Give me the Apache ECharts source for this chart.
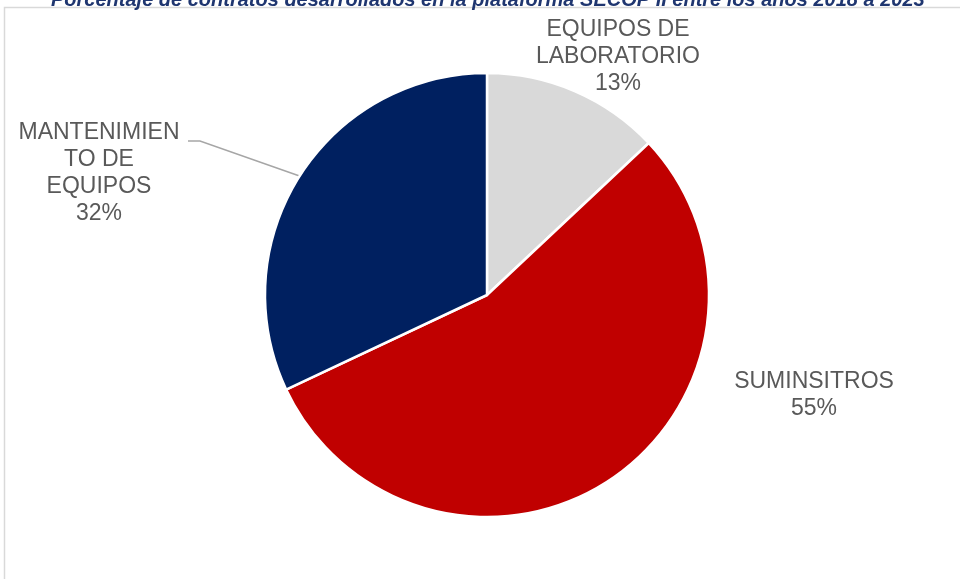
<!DOCTYPE html>
<html>
<head>
<meta charset="utf-8">
<script src="https://cdn.jsdelivr.net/npm/echarts@6/dist/echarts.min.js"></script>
<style>
	html, body { margin: 0; padding: 0; background: #fff; }
	#chart { width: 960px; height: 579px; }
</style>
</head>
<body>
<div id="chart"></div>
<script>
	// datos del gráfico
	var categorias = ['EQUIPOS DE LABORATORIO', 'SUMINSITROS', 'MANTENIMIENTO DE EQUIPOS'];
	var etiquetas = ['EQUIPOS DE\nLABORATORIO', 'SUMINSITROS', 'MANTENIMIEN\nTO DE\nEQUIPOS'];
	var porcentajes = [13, 55, 32];
	var colores = ['#d9d9d9', '#c00000', '#002060'];
	var titulo = 'Porcentaje de contratos desarrollados en la plataforma SECOP II entre los años 2018 a 2023';

	// posiciones de etiquetas (centro del bloque)
	var posEtiquetas = [[618, 57], [814, 395], [99, 173]];

	var chart = echarts.init(document.getElementById('chart'));

	var datos = categorias.map(function (c, i) {
		return {
			name: c,
			value: porcentajes[i],
			itemStyle: { color: colores[i] },
			labelLine: { show: i === 2 }
		};
	});

	chart.setOption({
		animation: false,
		title: {
			text: titulo,
			left: 46,
			top: -15,
			textStyle: {
				fontFamily: 'Liberation Sans',
				fontStyle: 'italic',
				fontWeight: 'bold',
				fontSize: 20,
				color: '#1f3670'
			}
		},
		graphic: [{
			type: 'rect',
			silent: true,
			shape: { x: 4.5, y: 7.5, width: 1000, height: 700 },
			style: { fill: 'none', stroke: '#d9d9d9', lineWidth: 1.5 }
		}],
		series: [{
			type: 'pie',
			center: [487, 295],
			radius: 222,
			startAngle: 90,
			clockwise: true,
			itemStyle: { borderColor: '#ffffff', borderWidth: 2.5 },
			label: {
				show: true,
				position: 'outside',
				fontFamily: 'Liberation Sans',
				fontSize: 23,
				lineHeight: 27,
				color: '#595959',
				align: 'center',
				formatter: function (p) {
					return etiquetas[p.dataIndex] + '\n' + p.value + '%';
				}
			},
			labelLine: {
				show: false,
				lineStyle: { color: '#a6a6a6', width: 1.5 }
			},
			labelLayout: function (params) {
				var pos = posEtiquetas[params.dataIndex];
				var res = {
					x: pos[0],
					y: pos[1],
					align: 'center',
					verticalAlign: 'middle'
				};
				if (params.dataIndex === 2 && params.labelLinePoints) {
					var inicio = params.labelLinePoints[0];
					res.labelLinePoints = [inicio, [pos[0] + 101, pos[1] - 32], [pos[0] + 89, pos[1] - 32]];
				}
				return res;
			},
			data: datos
		}]
	});
</script>
</body>
</html>
